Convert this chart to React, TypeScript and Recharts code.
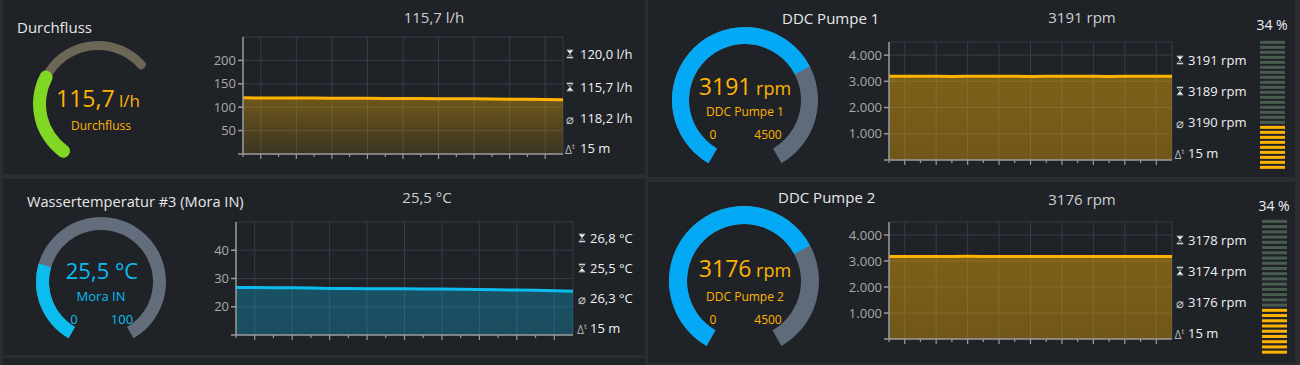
import React from 'react';
import { AreaChart, Area, XAxis, YAxis, CartesianGrid, PieChart, Pie, Cell, BarChart, Bar } from 'recharts';

// time axis: 15 minutes split into 18 steps
const timeTicks = [0, 1, 2, 3, 4, 5, 6, 7, 8, 9, 10, 11, 12, 13, 14, 15, 16, 17];
const gridTicks = [1, 3, 5, 7, 9, 11, 13, 15, 17];

const flowSeries = [120.0, 119.8, 119.7, 119.5, 119.4, 119.2, 119.0, 118.9, 118.8, 118.6, 118.5, 118.3, 118.1, 117.9, 117.6, 117.2, 116.8, 116.3, 115.7];
const tempSeries = [26.8, 26.8, 26.7, 26.7, 26.6, 26.5, 26.5, 26.4, 26.4, 26.4, 26.3, 26.3, 26.2, 26.1, 26.0, 25.9, 25.8, 25.7, 25.5];
const pump1Series = [3190, 3190, 3191, 3190, 3189, 3190, 3191, 3190, 3190, 3189, 3190, 3191, 3190, 3190, 3189, 3190, 3190, 3191, 3191];
const pump2Series = [3176, 3177, 3176, 3175, 3176, 3178, 3177, 3176, 3175, 3174, 3176, 3177, 3176, 3176, 3175, 3176, 3177, 3176, 3176];

const flowTicks = [0, 50, 100, 150, 200];
const tempTicks = [10, 20, 30, 40];
const rpmTicks = [0, 1000, 2000, 3000, 4000];

const flowStats = ['120,0 l/h', '115,7 l/h', '118,2 l/h', '15 m'];
const tempStats = ['26,8 °C', '25,5 °C', '26,3 °C', '15 m'];
const pump1Stats = ['3191 rpm', '3189 rpm', '3190 rpm', '15 m'];
const pump2Stats = ['3178 rpm', '3174 rpm', '3176 rpm', '15 m'];

const flowValue = 115.7;
const flowMax = 250;
const tempValue = 25.5;
const tempMax = 100;
const pump1Value = 3191;
const pump2Value = 3176;
const pumpMax = 4500;

const pump1Level = 34;
const pump2Level = 34;
const meterSegments = 26;

const AMBER = '#ffb300';
const BLUE = '#0bbcef';
const AXIS = '#9a9a9a';
const GRID = '#363d46';

const toRows = (series: number[]) => series.map((v, i) => ({ t: i, v }));
const dotted = (v: number) => String(v).replace(/\B(?=(\d{3})+(?!\d))/g, '.');

const Txt = ({ x, y, size, color = '#e8e8e8', anchor = 'start', children }: any) => (
  <div
    style={{
      position: 'absolute',
      left: x,
      top: y,
      transform: `translate(${anchor === 'middle' ? '-50%' : anchor === 'end' ? '-100%' : '0'}, -50%)`,
      fontSize: size,
      color,
      lineHeight: 1,
      whiteSpace: 'nowrap',
    }}
  >
    {children}
  </div>
);

const Hourglass = ({ top }: { top: boolean }) => {
  const c = '#f0f0f0';
  return (
    <svg width={7} height={9} viewBox="0 0 7 9" style={{ display: 'block' }}>
      <rect x={0} y={0} width={7} height={1} fill={c} />
      <rect x={0} y={8} width={7} height={1} fill={c} />
      {top ? (
        <>
          <polygon points="0.6,1 6.4,1 3.5,4.5" fill={c} />
          <polygon points="3.5,4.5 6.4,8 0.6,8" fill="none" stroke={c} strokeWidth={0.6} />
          <polygon points="2.4,8 4.6,8 3.5,6.8" fill={c} />
        </>
      ) : (
        <>
          <polygon points="0.6,1 6.4,1 3.5,4.5" fill="none" stroke={c} strokeWidth={0.6} />
          <polygon points="2.4,1 4.6,1 3.5,2.2" fill={c} />
          <polygon points="3.5,4.5 6.4,8 0.6,8" fill={c} />
        </>
      )}
    </svg>
  );
};

const StatIcon = ({ kind }: { kind: number }) => {
  if (kind === 0) return <Hourglass top />;
  if (kind === 1) return <Hourglass top={false} />;
  if (kind === 2) return <span style={{ fontSize: 13, color: '#c8c8c8' }}>⌀</span>;
  return (
    <span style={{ fontSize: 12, color: '#b0b0b0' }}>
      Δ<sup style={{ fontSize: 8 }}>t</sup>
    </span>
  );
};

const Stats = ({ items, iconX, textX, ys }: any) => (
  <>
    {items.map((s: string, i: number) => (
      <React.Fragment key={i}>
        <div style={{ position: 'absolute', left: iconX, top: ys[i], transform: 'translate(-50%, -50%)', lineHeight: 1 }}>
          <StatIcon kind={i} />
        </div>
        <Txt x={textX} y={ys[i]} size={13} color="#f0f0f0">
          {s}
        </Txt>
      </React.Fragment>
    ))}
  </>
);

const TimeTick = (props: any) => {
  const { x, y, payload } = props;
  const major = payload.value % 2 === 1;
  return <line x1={x} x2={x} y1={y} y2={y + (major ? 5 : 3)} stroke={AXIS} strokeWidth={1.2} />;
};

const Trend = ({ id, left, top, width, height, right, yWidth, xHeight, series, domain, ticks, fmt, color, fillTop, fillBottom }: any) => (
  <div style={{ position: 'absolute', left, top }}>
    <AreaChart width={width} height={height} data={toRows(series)} margin={{ top: 7, right, left: 0, bottom: 0 }}>
      <defs>
        <linearGradient id={id} x1="0" y1="0" x2="0" y2="1">
          <stop offset="0%" stopColor={color} stopOpacity={fillTop} />
          <stop offset="100%" stopColor={color} stopOpacity={fillBottom} />
        </linearGradient>
      </defs>
      <CartesianGrid stroke={GRID} xAxisId="grid" />
      <XAxis
        dataKey="t"
        type="number"
        domain={[0, 18]}
        ticks={timeTicks}
        interval={0}
        tickLine={false}
        tickSize={0}
        tickMargin={0}
        tick={TimeTick}
        stroke={AXIS}
        strokeWidth={1.5}
        height={xHeight}
      />
      <XAxis xAxisId="grid" dataKey="t" type="number" domain={[0, 18]} ticks={gridTicks} interval={0} hide />
      <YAxis
        type="number"
        domain={domain}
        ticks={ticks}
        interval={0}
        width={yWidth}
        stroke={AXIS}
        strokeWidth={1.5}
        tickSize={5}
        tickMargin={2}
        tick={{ fill: '#a9a9a9', fontSize: 13 }}
        tickFormatter={fmt}
        allowDataOverflow
      />
      <Area
        type="linear"
        dataKey="v"
        stroke={color}
        strokeWidth={3}
        fill={`url(#${id})`}
        fillOpacity={1}
        dot={false}
        activeDot={false}
        isAnimationActive={false}
      />
    </AreaChart>
  </div>
);

const Gauge = ({ cx, cy, size, value, max, start, end, inner, outer, color, track, tInner, tOuter, corner = 0 }: any) => (
  <div style={{ position: 'absolute', left: cx - size / 2, top: cy - size / 2 }}>
    <PieChart width={size} height={size} margin={{ top: 0, right: 0, bottom: 0, left: 0 }}>
      <Pie
        data={[{ v: max }]}
        dataKey="v"
        startAngle={start}
        endAngle={end}
        innerRadius={tInner ?? inner}
        outerRadius={tOuter ?? outer}
        cornerRadius={corner ? corner - 2 : 0}
        stroke="none"
        fill={track}
        isAnimationActive={false}
      />
      <Pie
        data={[{ v: value }, { v: max - value }]}
        dataKey="v"
        startAngle={start}
        endAngle={end}
        innerRadius={inner}
        outerRadius={outer}
        cornerRadius={corner}
        stroke="none"
        isAnimationActive={false}
      >
        <Cell fill={color} />
        <Cell fill="transparent" />
      </Pie>
    </PieChart>
  </div>
);

const Meter = ({ left, top, height, level }: any) => {
  const filled = Math.round((level / 100) * meterSegments);
  const data = Array.from({ length: meterSegments }, (_, i) => ({ seg: i, v: 1 }));
  return (
    <div style={{ position: 'absolute', left, top }}>
      <BarChart width={25} height={height} data={data} layout="vertical" margin={{ top: 0, right: 0, bottom: 0, left: 0 }} barCategoryGap="17%">
        <XAxis type="number" domain={[0, 1]} hide />
        <YAxis type="category" dataKey="seg" hide />
        <Bar dataKey="v" isAnimationActive={false}>
          {data.map((d) => (
            <Cell key={d.seg} fill={d.seg >= meterSegments - filled ? AMBER : '#4a5c50'} />
          ))}
        </Bar>
      </BarChart>
    </div>
  );
};

const Panel = ({ left, top, width, height }: any) => (
  <div style={{ position: 'absolute', left, top, width, height, background: '#1f2328' }} />
);

export default function App() {
  return (
    <div
      style={{
        position: 'absolute',
        left: 0,
        top: 0,
        width: 1300,
        height: 365,
        background: '#2b2d30',
        overflow: 'hidden',
        fontFamily: '"Open Sans", sans-serif',
      }}
    >
      <Panel left={3} top={0} width={642} height={174} />
      <Panel left={3} top={179} width={642} height={176} />
      <Panel left={3} top={358} width={642} height={20} />
      <Panel left={648} top={0} width={647} height={177} />
      <Panel left={648} top={182} width={647} height={181} />

      {/* Durchfluss */}
      <Txt x={17} y={27} size={15}>Durchfluss</Txt>
      <Txt x={434} y={17} size={15} color="#cfcfcf" anchor="middle">115,7 l/h</Txt>
      <Gauge cx={98} cy={104} size={150} value={flowValue} max={flowMax} start={240} end={38} inner={52} outer={65} tInner={54} tOuter={63} color="#80d825" track="#6b6656" corner={6} />
      <Txt x={98} y={98} size={23} color={AMBER} anchor="middle">
        115,7<span style={{ fontSize: 17 }}> l/h</span>
      </Txt>
      <Txt x={101} y={126} size={12} color={AMBER} anchor="middle">Durchfluss</Txt>
      <Trend id="gFlow" left={200} top={30} width={370} height={140} right={7} yWidth={43} xHeight={16} series={flowSeries} domain={[0, 250]} ticks={flowTicks} fmt={(v: number) => (v === 0 ? '' : String(v))} color={AMBER} fillTop={0.36} fillBottom={0.12} />
      <Stats items={flowStats} iconX={570} textX={580} ys={[54, 86.5, 118, 147.5]} />

      {/* Wassertemperatur */}
      <Txt x={27} y={201} size={14.6}>Wassertemperatur #3 (Mora IN)</Txt>
      <Txt x={427} y={197} size={15} color="#cfcfcf" anchor="middle">25,5 °C</Txt>
      <Gauge cx={101} cy={282} size={150} value={tempValue} max={tempMax} start={240} end={-60} inner={52} outer={65} color={BLUE} track="#636d7b" />
      <Txt x={102} y={270} size={22} color={BLUE} anchor="middle">25,5 °C</Txt>
      <Txt x={101} y={296} size={13} color={BLUE} anchor="middle">Mora IN</Txt>
      <Txt x={74} y={319} size={13} color={BLUE} anchor="middle">0</Txt>
      <Txt x={122} y={319} size={13} color={BLUE} anchor="middle">100</Txt>
      <Trend id="gTemp" left={190} top={215} width={390} height={140} right={7} yWidth={46} xHeight={20} series={tempSeries} domain={[10, 50]} ticks={tempTicks} fmt={(v: number) => (v === 10 ? '' : String(v))} color={BLUE} fillTop={0.3} fillBottom={0.27} />
      <Stats items={tempStats} iconX={582} textX={590} ys={[237.5, 267.5, 297.5, 327.5]} />

      {/* DDC Pumpe 1 */}
      <Txt x={782} y={17.5} size={15}>DDC Pumpe 1</Txt>
      <Txt x={1082} y={17} size={15} color="#cfcfcf" anchor="middle">3191 rpm</Txt>
      <Gauge cx={745} cy={100} size={160} value={pump1Value} max={pumpMax} start={240} end={-60} inner={56} outer={73} color="#03a9f4" track="#5f6b7b" />
      <Txt x={745} y={86} size={23} color={AMBER} anchor="middle">
        3191<span style={{ fontSize: 18 }}> rpm</span>
      </Txt>
      <Txt x={745} y={111.5} size={12} color={AMBER} anchor="middle">DDC Pumpe 1</Txt>
      <Txt x={713} y={135} size={12} color={AMBER} anchor="middle">0</Txt>
      <Txt x={768} y={135} size={12} color={AMBER} anchor="middle">4500</Txt>
      <Trend id="gP1" left={830} top={35} width={350} height={145} right={8} yWidth={59} xHeight={20} series={pump1Series} domain={[0, 4500]} ticks={rpmTicks} fmt={(v: number) => (v === 0 ? '' : dotted(v))} color={AMBER} fillTop={0.42} fillBottom={0.36} />
      <Stats items={pump1Stats} iconX={1179.5} textX={1188} ys={[60, 91, 122, 152.5]} />
      <Txt x={1272} y={24.5} size={14} color="#f0f0f0" anchor="middle">34 %</Txt>
      <Meter left={1260} top={40} height={130} level={pump1Level} />

      {/* DDC Pumpe 2 */}
      <Txt x={778} y={197} size={15}>DDC Pumpe 2</Txt>
      <Txt x={1082} y={199} size={15} color="#cfcfcf" anchor="middle">3176 rpm</Txt>
      <Gauge cx={744} cy={281} size={160} value={pump2Value} max={pumpMax} start={240} end={-60} inner={57} outer={75} color="#03a9f4" track="#5f6b7b" />
      <Txt x={745} y={268} size={23} color={AMBER} anchor="middle">
        3176<span style={{ fontSize: 18 }}> rpm</span>
      </Txt>
      <Txt x={745} y={296.5} size={12} color={AMBER} anchor="middle">DDC Pumpe 2</Txt>
      <Txt x={713} y={319.5} size={12} color={AMBER} anchor="middle">0</Txt>
      <Txt x={768} y={319.5} size={12} color={AMBER} anchor="middle">4500</Txt>
      <Trend id="gP2" left={830} top={215} width={350} height={145} right={8} yWidth={59} xHeight={21} series={pump2Series} domain={[0, 4500]} ticks={rpmTicks} fmt={(v: number) => (v === 0 ? '' : dotted(v))} color={AMBER} fillTop={0.42} fillBottom={0.36} />
      <Stats items={pump2Stats} iconX={1179.5} textX={1188} ys={[239.5, 271, 302, 332.5]} />
      <Txt x={1274} y={205.5} size={14} color="#f0f0f0" anchor="middle">34 %</Txt>
      <Meter left={1262} top={219} height={136} level={pump2Level} />
    </div>
  );
}
